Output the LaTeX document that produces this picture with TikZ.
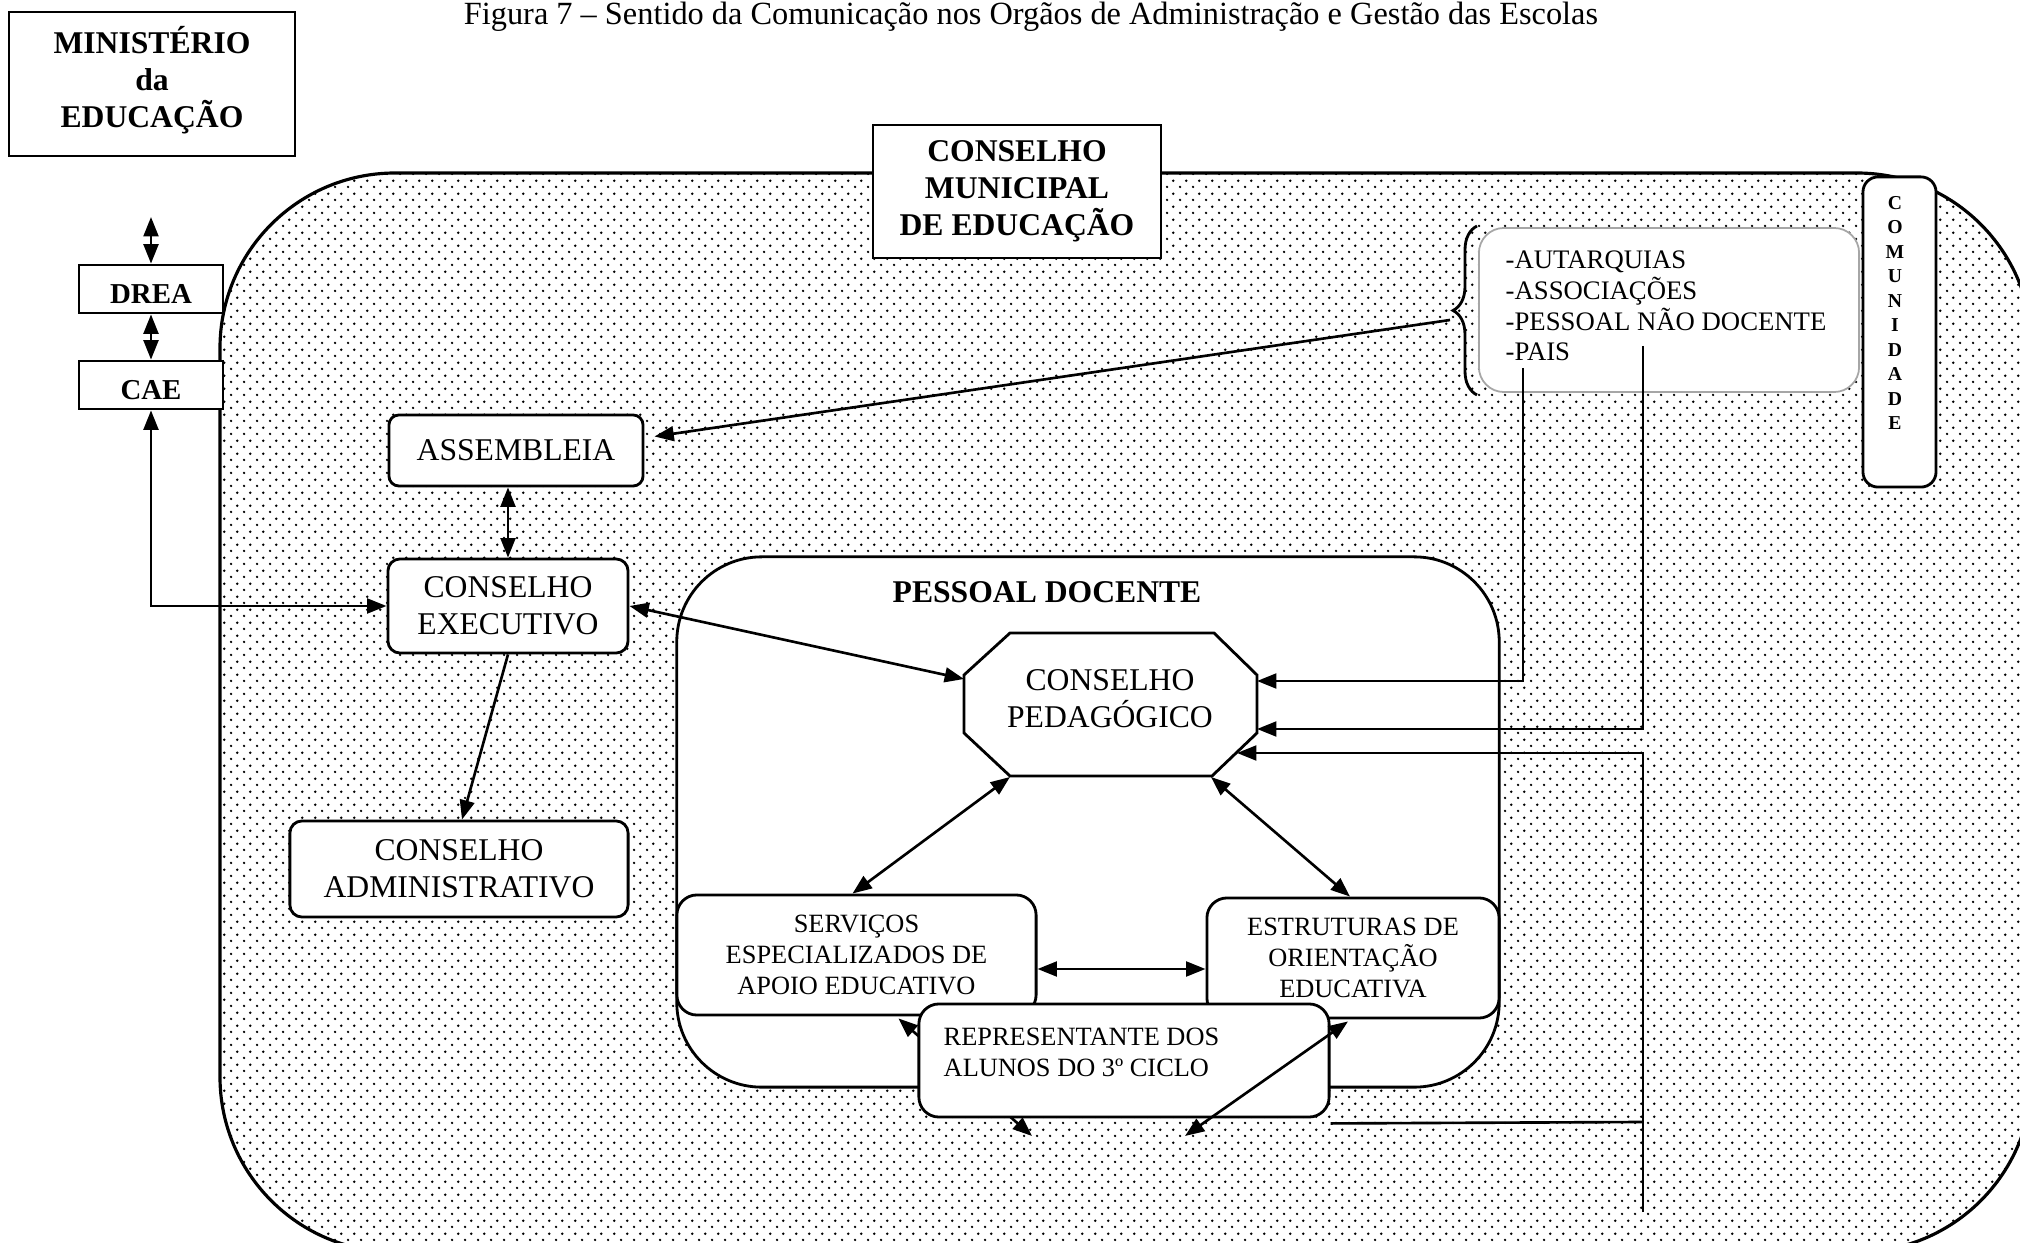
\documentclass[tikz,border=0pt]{standalone}
\usepackage{fontspec}
\setmainfont{Liberation Serif}
\usetikzlibrary{arrows.meta,calc,patterns,decorations.pathreplacing}

% staggered dot screen used for the school area
\pgfdeclarepatternformonly{scandots}{\pgfpointorigin}{\pgfqpoint{3.6pt}{3.6pt}}{\pgfqpoint{3.6pt}{3.6pt}}{%
  \pgfpathcircle{\pgfqpoint{0.9pt}{0.9pt}}{0.38pt}%
  \pgfpathcircle{\pgfqpoint{2.7pt}{2.7pt}}{0.38pt}%
  \pgfusepath{fill}}

\newcommand{\setfs}[2]{\fontsize{#1}{#2}\selectfont}

\begin{document}
\begin{tikzpicture}[x=0.01cm, y=-0.01cm,
  frame/.style={draw, line width=0.8pt, fill=white, inner sep=0pt, align=center},
  rbox/.style={frame, rounded corners=0.12cm},
  big/.style={font=\setfs{9}{10.5}},
  bigb/.style={font=\bfseries\setfs{9}{10.5}},
  small/.style={font=\setfs{7.5}{8.8}},
  arr/.style={line width=0.75pt, -{Triangle[length=5.5pt,width=4.2pt]}},
  darr/.style={line width=0.75pt, {Triangle[length=5.5pt,width=4.2pt]}-{Triangle[length=5.5pt,width=4.2pt]}},
  plain/.style={line width=0.75pt}
]
\useasboundingbox (0,0) rectangle (2020,1243);

% dotted school area
\begin{scope}
  \clip (0,0) rectangle (2020,1243);
  \path[pattern=scandots, pattern color=black, rounded corners=1.75cm] (220,173) rectangle (2032,1252);
  \draw[line width=0.9pt, rounded corners=1.75cm] (220,173) rectangle (2032,1252);
\end{scope}

% title
\node[font=\setfs{9.2}{11}, anchor=base, inner sep=0pt] (title) at (1031,25)
  {Figura 7 – Sentido da Comunicação nos Orgãos de Administração e Gestão das Escolas};

% outside bodies
\node[frame, bigb, minimum width=2.86cm, minimum height=1.44cm, text depth=4pt] (me) at (152,84) {MINISTÉRIO\\da\\EDUCAÇÃO};
\node[frame, font=\bfseries\setfs{8.2}{9.5}, minimum width=1.44cm, minimum height=0.48cm,
      text height=8.3pt, text depth=0pt] (drea) at (151,289) {DREA};
\node[frame, font=\bfseries\setfs{8.2}{9.5}, minimum width=1.44cm, minimum height=0.48cm,
      text height=8.3pt, text depth=0pt] (cae) at (151,385) {CAE};
\coordinate (metop) at (151,217);

% municipal council
\node[frame, bigb, minimum width=2.88cm, minimum height=1.33cm] (cme) at (1017,191.5) {CONSELHO\\MUNICIPAL\\DE EDUCAÇÃO};

% community
\node[rbox, rounded corners=0.15cm, minimum width=0.73cm, minimum height=3.10cm] (comm) at (1899.5,332) {};
\node[font=\bfseries\setfs{5.6}{6.95}, align=center, inner sep=0pt] (commlbl) at (1895,313)
  {C\\O\\M\\U\\N\\I\\D\\A\\D\\E};
\node[draw=black!35, line width=0.5pt, fill=white, rounded corners=0.25cm, inner sep=0pt,
      minimum width=3.80cm, minimum height=1.64cm] (commlist) at (1669,310) {};
\node[font=\setfs{7.6}{8.7}, anchor=west, align=left, inner sep=0pt] (commtxt) at (1505,306)
  {-AUTARQUIAS\\-ASSOCIAÇÕES\\-PESSOAL NÃO DOCENTE\\-PAIS};
\draw[line width=0.8pt, decorate, decoration={brace, amplitude=0.24cm}] (1477,395) -- (1477,226);
\coordinate (bracetip) at (1450,320);
\coordinate (paisdrop) at (1523,368);
\coordinate (pndrop) at (1643,346);
\coordinate (stub) at (1643,1212);

% school bodies
\node[rbox, big, rounded corners=0.1cm, minimum width=2.54cm, minimum height=0.71cm] (asm) at (516,450.5) {ASSEMBLEIA};
\node[rbox, big, minimum width=2.40cm, minimum height=0.94cm] (ce) at (508,606) {CONSELHO\\EXECUTIVO};
\node[rbox, big, minimum width=3.38cm, minimum height=0.96cm] (ca) at (459,869) {CONSELHO\\ADMINISTRATIVO};

% teaching staff area
\node[frame, rounded corners=0.85cm, minimum width=8.22cm, minimum height=5.30cm] (pd) at (1088,822) {};
\node[bigb, inner sep=0pt] (pdlabel) at (1047,592) {PESSOAL DOCENTE};

% pedagogical council (octagon)
\draw[line width=0.8pt, fill=white] (1010,633) -- (1214,633) -- (1257,675) -- (1257,733)
  -- (1212,776) -- (1010,776) -- (964,733) -- (964,675) -- cycle;
\node[big, align=center, inner sep=0pt] (cp) at (1110,699) {CONSELHO\\PEDAGÓGICO};
\coordinate (cpW) at (964,679);
\coordinate (cpE1) at (1257,681);
\coordinate (cpE2) at (1257,729);
\coordinate (cpSE) at (1237,753);
\coordinate (cpBL) at (1010,777);
\coordinate (cpBR) at (1211,777);

\node[rbox, small, rounded corners=0.2cm, minimum width=3.59cm, minimum height=1.20cm] (serv) at (856.5,955)
  {SERVIÇOS\\ESPECIALIZADOS DE\\APOIO EDUCATIVO};
\node[rbox, small, rounded corners=0.2cm, minimum width=2.92cm, minimum height=1.20cm] (est) at (1353,958)
  {ESTRUTURAS DE\\ORIENTAÇÃO\\EDUCATIVA};

% connectors
\draw[darr] (metop) -- (drea.north);
\draw[darr] (drea.south) -- (cae.north);
\draw[darr] (cae.south) |- (ce.west);
\draw[darr] (asm.south -| ce.north) -- (ce.north);
\draw[arr] (ce.south) -- ($(ca.north)+(3,0)$);
\draw[darr] (ce.east) -- (cpW);
\draw[arr] (bracetip) -- ($(asm.east)+(10,-14)$);
\draw[darr] (cpBL) -- ($(serv.north)+(-4,0)$);
\draw[darr] (cpBR) -- ($(est.north)+(-3,0)$);
\draw[darr] ($(serv.east)+(0,14)$) -- ($(est.west)+(0,11)$);
\draw[arr] (paisdrop) |- (cpE1);
\draw[arr] (pndrop) |- (cpE2);
\draw[arr] (stub) |- (cpSE);

% link running behind the students' representative
\coordinate (aLow) at (1032,1136);
\draw[darr] ($(serv.south)+(42,2)$) -- (aLow);

% students' representative
\node[rbox, rounded corners=0.2cm, minimum width=4.10cm, minimum height=1.13cm] (rep) at (1124,1060.5) {};
\node[small, anchor=west, align=left, inner sep=0pt] (reptxt) at (943,1052)
  {REPRESENTANTE DOS\\ALUNOS DO 3º CICLO};

\coordinate (bLow) at (1185,1136);
\draw[darr] (bLow) -- ($(est.south)+(-5,2)$);
\draw[plain] ($(rep.south east)+(0,5)$) -- (stub |- 0,1122);

\end{tikzpicture}
\end{document}
